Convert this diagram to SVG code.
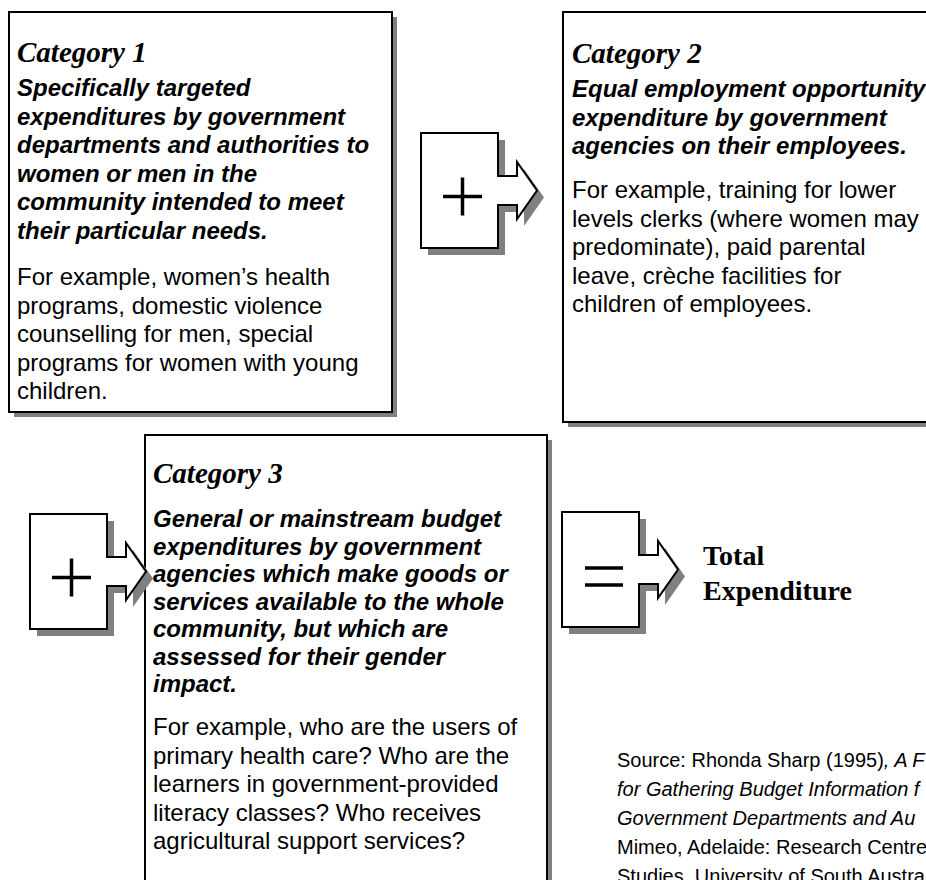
<svg xmlns="http://www.w3.org/2000/svg" xmlns:xlink="http://www.w3.org/1999/xlink" width="926" height="880" viewBox="0 0 926 880">
<style>
.box{fill:#fff;stroke:#000;stroke-width:2}
.shadow{fill:#808080}
.title{font-family:"Liberation Serif","Times New Roman",serif;font-weight:bold;font-style:italic;font-size:29px;fill:#000}
.bi{font-family:"Liberation Sans",Arial,sans-serif;font-weight:bold;font-style:italic;font-size:24px;fill:#000}
.reg{font-family:"Liberation Sans",Arial,sans-serif;font-size:24px;fill:#000}
.total{font-family:"Liberation Serif","Times New Roman",serif;font-weight:bold;font-size:28px;fill:#000}
.src{font-family:"Liberation Sans",Arial,sans-serif;font-size:20px;fill:#000}
.it{font-style:italic}
.sym{stroke:#000;stroke-width:3.5;fill:none}
</style>
<defs>
<path id="arrowShape" d="M0,0 H77 V43 H96 V29 L116,57.5 L96,86 V72 H77 V115 H0 Z"/>
</defs>
<rect width="926" height="880" fill="#fff"/>

<g id="category1">
<rect class="shadow" x="14" y="17" width="383" height="400"/>
<rect class="box" x="9" y="12" width="383" height="400"/>
<text class="title" x="17" y="62">Category 1</text>
<text class="bi" x="17" y="96">Specifically targeted</text>
<text class="bi" x="17" y="124.5">expenditures by government</text>
<text class="bi" x="17" y="153">departments and authorities to</text>
<text class="bi" x="17" y="181.5">women or men in the</text>
<text class="bi" x="17" y="210">community intended to meet</text>
<text class="bi" x="17" y="238.5">their particular needs.</text>
<text class="reg" x="17" y="285">For example, women’s health</text>
<text class="reg" x="17" y="313.5">programs, domestic violence</text>
<text class="reg" x="17" y="342">counselling for men, special</text>
<text class="reg" x="17" y="370.5">programs for women with young</text>
<text class="reg" x="17" y="399">children.</text>
</g>

<g id="category2">
<rect class="shadow" x="568" y="17" width="380" height="410"/>
<rect class="box" x="563" y="12" width="380" height="410"/>
<text class="title" x="572" y="63">Category 2</text>
<text class="bi" x="572" y="97">Equal employment opportunity</text>
<text class="bi" x="572" y="125.5">expenditure by government</text>
<text class="bi" x="572" y="154">agencies on their employees.</text>
<text class="reg" x="572" y="198">For example, training for lower</text>
<text class="reg" x="572" y="226.5">levels clerks (where women may</text>
<text class="reg" x="572" y="255">predominate), paid parental</text>
<text class="reg" x="572" y="283.5">leave, crèche facilities for</text>
<text class="reg" x="572" y="312">children of employees.</text>
</g>

<g id="category3">
<rect class="shadow" x="150" y="440" width="402" height="470"/>
<rect class="box" x="145" y="435" width="402" height="470"/>
<text class="title" x="153" y="483">Category 3</text>
<text class="bi" x="153" y="527">General or mainstream budget</text>
<text class="bi" x="153" y="554.5">expenditures by government</text>
<text class="bi" x="153" y="582">agencies which make goods or</text>
<text class="bi" x="153" y="609.5">services available to the whole</text>
<text class="bi" x="153" y="637">community, but which are</text>
<text class="bi" x="153" y="664.5">assessed for their gender</text>
<text class="bi" x="153" y="692">impact.</text>
<text class="reg" x="153" y="735">For example, who are the users of</text>
<text class="reg" x="153" y="763.5">primary health care? Who are the</text>
<text class="reg" x="153" y="792">learners in government-provided</text>
<text class="reg" x="153" y="820.5">literacy classes? Who receives</text>
<text class="reg" x="153" y="849">agricultural support services?</text>
</g>

<g id="connectors">
<g id="plus1" transform="translate(421,133)">
<use xlink:href="#arrowShape" href="#arrowShape" class="shadow" transform="translate(7,7)"/>
<use xlink:href="#arrowShape" href="#arrowShape" class="box"/>
<path class="sym" d="M22,63.5 H61 M41.5,44.5 V82.5"/>
</g>
<g id="plus2" transform="translate(30,514)">
<use xlink:href="#arrowShape" href="#arrowShape" class="shadow" transform="translate(7,7)"/>
<use xlink:href="#arrowShape" href="#arrowShape" class="box"/>
<path class="sym" d="M22,63.5 H61 M41.5,44.5 V82.5"/>
</g>
<g id="equals" transform="translate(562,512)">
<use xlink:href="#arrowShape" href="#arrowShape" class="shadow" transform="translate(7,7)"/>
<use xlink:href="#arrowShape" href="#arrowShape" class="box"/>
<path class="sym" stroke-width="4" d="M23,56 H61 M23,73 H61"/>
</g>
</g>

<g id="total">
<text class="total" x="703" y="565">Total</text>
<text class="total" x="703" y="600">Expenditure</text>
</g>

<g id="source">
<text class="src" x="617" y="767">Source: Rhonda Sharp (1995)<tspan class="it">, A F</tspan></text>
<text class="src it" x="617" y="796">for Gathering Budget Information f</text>
<text class="src it" x="617" y="825">Government Departments and Au</text>
<text class="src" x="617" y="854">Mimeo, Adelaide: Research Centre</text>
<text class="src" x="617" y="883">Studies, University of South Austra</text>
</g>
</svg>
